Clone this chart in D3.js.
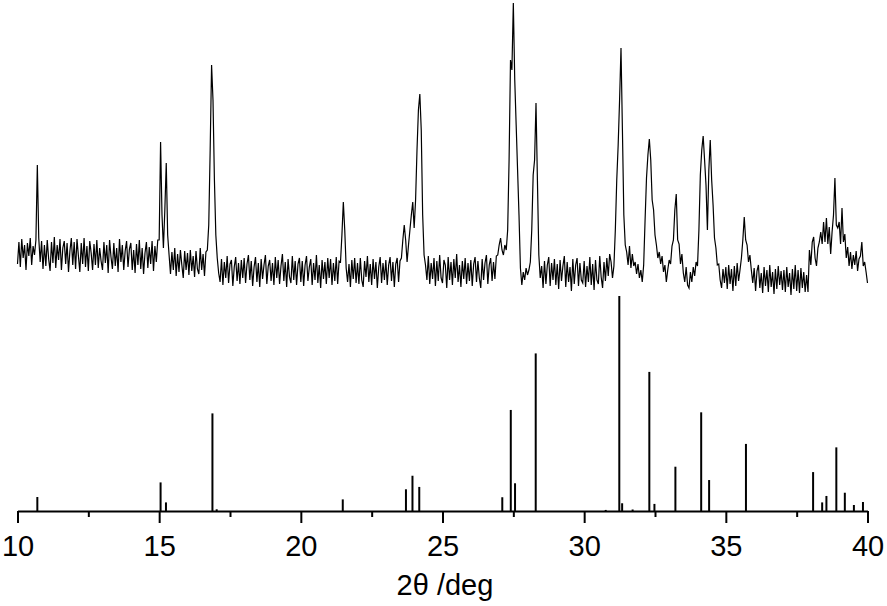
<!DOCTYPE html>
<html>
<head>
<meta charset="utf-8">
<script src="https://cdn.jsdelivr.net/npm/d3@7"></script>
<style>
  body { margin: 0; background: #fff; }
  svg { display: block; }
  .axis text { font-family: "Liberation Sans", Arial, sans-serif; font-size: 29px; fill: #000; }
  .axis path, .axis line { stroke: #000; stroke-width: 2px; }
  .trace { fill: none; stroke: #000; stroke-width: 1.2px; stroke-linejoin: miter; }
  .stick { stroke: #000; stroke-width: 2px; }
  .title { font-family: "Liberation Sans", Arial, sans-serif; font-size: 29px; fill: #000; }
</style>
</head>
<body>
<svg width="887" height="606"></svg>
<script>
// measured pattern, 2theta from 10 to 40 in 0.05 deg steps (arb. units)
var traceStart = 10, traceStep = 0.05;
var traceCounts = [
  36,58,33,61,42,55,30,57,44,62,35,54,45,60,135,62,38,59,31,55,   // 10
  34,60,41,29,58,37,63,32,55,40,61,30,52,59,36,57,28,49,62,35,    // 11
  58,31,61,44,28,57,36,62,33,54,29,59,47,30,56,35,60,32,52,39,    // 12
  30,58,37,55,27,60,43,31,57,34,52,28,61,38,55,30,49,59,33,51,    // 13
  57,30,50,27,56,35,60,31,52,26,47,58,32,53,36,59,29,54,38,60,    // 14
  60,158,85,52,90,137,65,45,26,48,30,52,24,46,28,50,35,22,49,30,  // 15
  47,25,50,29,44,23,49,31,26,52,30,46,24,48,50,75,150,235,200,120, // 16
  65,42,27,18,41,15,38,22,44,17,36,40,14,33,43,19,37,16,40,22,    // 17
  42,17,36,45,20,39,14,33,43,18,37,13,41,21,35,45,16,34,40,19,    // 18
  37,15,43,22,40,16,34,46,19,38,13,41,23,17,44,20,39,15,36,42,    // 19
  18,39,14,35,44,19,33,41,15,37,20,45,17,35,12,40,21,38,16,42,    // 20
  22,41,15,37,19,43,16,39,38,65,98,70,32,18,36,13,40,21,42,17,    // 21
  37,16,42,20,13,39,23,44,18,36,15,41,21,38,12,33,43,17,37,20,    // 22
  40,15,35,43,19,38,13,36,42,18,39,42,60,75,60,38,55,70,85,98,    // 23
  72,100,150,190,206,170,85,45,35,20,44,16,37,21,42,14,39,19,45,22, // 24
  17,40,35,12,43,20,38,15,41,22,46,18,35,13,39,21,42,16,37,19,    // 25
  40,14,36,43,18,39,22,12,41,20,37,45,16,35,42,19,38,21,44,45,    // 26
  55,62,50,45,55,50,70,140,240,230,297,220,175,130,85,32,15,28,20,32, // 27
  25,30,38,70,125,140,197,120,45,22,34,12,39,16,35,43,14,37,20,41, // 28
  15,36,11,40,19,34,44,13,38,18,33,9,41,16,35,42,14,37,20,17,     // 29
  39,13,34,18,43,15,36,10,40,20,16,44,23,12,38,19,42,24,46,38,    // 30
  22,34,70,120,155,200,252,170,85,55,48,35,54,32,46,34,38,26,36,22, // 31
  30,18,35,80,122,145,161,140,100,90,65,55,42,48,36,44,28,35,18,30, // 32
  40,36,54,60,90,106,60,56,36,46,27,18,33,15,12,28,18,33,24,38,   // 33
  34,70,125,150,164,140,115,70,130,160,120,95,62,52,35,36,20,12,31,17, // 34
  33,11,35,16,31,9,34,14,37,19,30,42,60,83,60,55,38,45,30,17,     // 35
  32,9,29,35,12,27,7,33,14,30,8,35,13,28,6,31,11,34,15,29,        // 36
  10,30,8,33,13,27,5,31,11,35,9,30,7,32,12,28,8,25,8,50,          // 37
  35,58,63,42,34,52,58,68,56,78,58,82,56,73,46,68,85,122,75,72,   // 38
  78,56,92,58,66,42,53,34,48,31,45,35,49,29,41,44,58,34,38,28,    // 39
  17                                                              // 40
];

// reference pattern (stick lines): positions and relative intensities
var refAngles = [10.70, 15.05, 15.24, 16.88, 17.03, 21.48, 23.71, 23.94, 24.18,
                 27.11, 27.41, 27.56, 28.29, 30.76, 31.24, 31.34, 31.71, 32.30,
                 32.48, 33.22, 34.13, 34.41, 35.71, 38.08, 38.40, 38.55, 38.90,
                 39.20, 39.52, 39.84];
var refIntensity = [6.5, 13.3, 4.0, 45.4, 0.8, 5.4, 10.1, 16.4, 11.2,
                    6.4, 47.0, 12.9, 73.3, 0.5, 100, 3.6, 0.7, 64.7,
                    3.3, 20.6, 45.9, 14.4, 31.2, 18.1, 4.0, 7.0, 29.6,
                    8.5, 2.8, 4.2];

var majorTicks = [10, 15, 20, 25, 30, 35, 40];
var minorTicks = [12.5, 17.5, 22.5, 27.5, 32.5, 37.5];

var svg = d3.select("svg");

var x = d3.scaleLinear().domain([10, 40]).range([17.5, 867.5]);
var yTrace = d3.scaleLinear().domain([0, 300]).range([300, 0]);
var yRef = d3.scaleLinear().domain([0, 100]).range([511, 296]);

var trace = traceCounts.map(function(v, i) { return [traceStart + i * traceStep, v]; });

var line = d3.line()
    .x(function(d) { return x(d[0]); })
    .y(function(d) { return yTrace(d[1]); });

svg.append("path")
    .datum(trace)
    .attr("class", "trace")
    .attr("d", line);

svg.selectAll(".stick")
    .data(refAngles)
  .enter().append("line")
    .attr("class", "stick")
    .attr("x1", function(d) { return x(d); })
    .attr("x2", function(d) { return x(d); })
    .attr("y1", yRef(0))
    .attr("y2", function(d, i) { return yRef(refIntensity[i]); });

// minor ticks first, then the labelled axis on top
svg.append("g")
    .attr("class", "axis")
    .attr("transform", "translate(0," + yRef(0) + ")")
    .call(d3.axisBottom(x).tickValues(minorTicks).tickSize(6).tickSizeOuter(0).tickFormat(""))
    .select(".domain").remove();

svg.append("g")
    .attr("class", "axis")
    .attr("transform", "translate(0," + yRef(0) + ")")
    .call(d3.axisBottom(x).tickValues(majorTicks).tickSize(12).tickSizeOuter(0).tickPadding(12).tickFormat(d3.format("d")));

svg.selectAll(".axis .tick line").attr("stroke-width", 2);

svg.append("text")
    .attr("class", "title")
    .attr("x", 445)
    .attr("y", 595)
    .attr("text-anchor", "middle")
    .text("2θ /deg");
</script>
</body>
</html>
